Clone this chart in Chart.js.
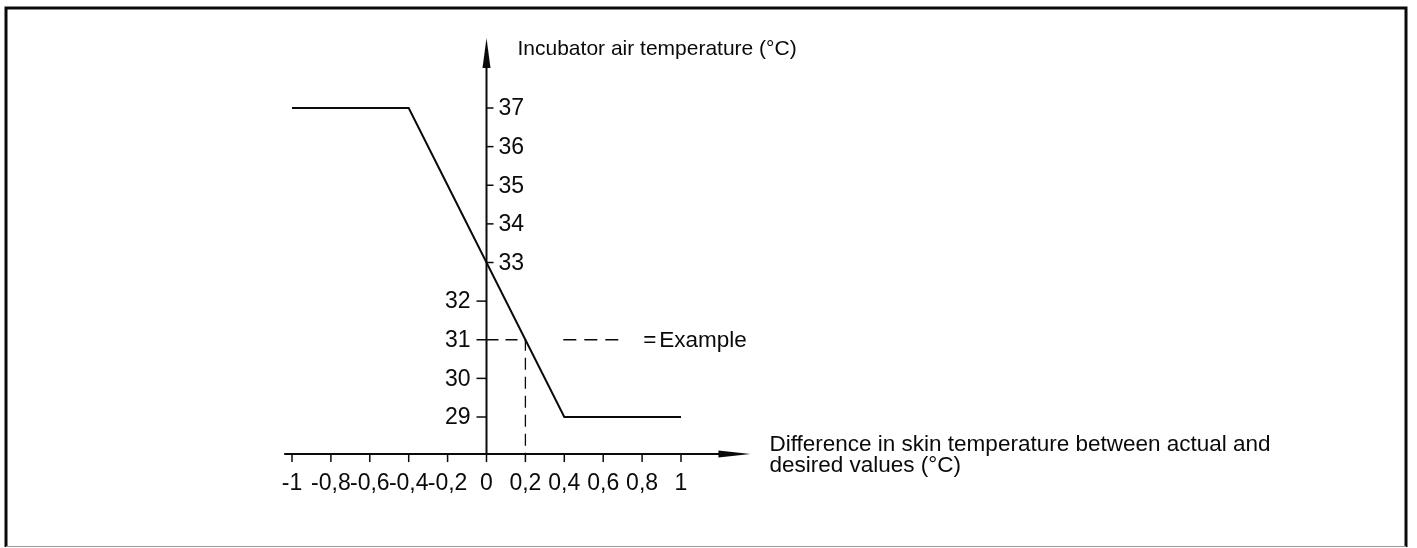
<!DOCTYPE html>
<html>
<head>
<meta charset="utf-8">
<script src="https://cdn.jsdelivr.net/npm/chart.js@4.4.0/dist/chart.umd.min.js"></script>
<style>
  html, body { margin: 0; padding: 0; background: #fff; }
  canvas { display: block; }
</style>
</head>
<body>
<canvas id="incubatorChart" width="1417" height="548"></canvas>
<script>
// ---------------- DATA ----------------
const xTicks = [-1, -0.8, -0.6, -0.4, -0.2, 0, 0.2, 0.4, 0.6, 0.8, 1];
const xTickLabels = ["-1", "-0,8", "-0,6", "-0,4", "-0,2", "0", "0,2", "0,4", "0,6", "0,8", "1"];
const yTicksRight = [33, 34, 35, 36, 37];   // labels right of the axis
const yTicksLeft = [29, 30, 31, 32];        // labels left of the axis
const curveX = [-1, -0.4, 0.4, 1];
const curveY = [37, 37, 29, 29];
const exampleX = [0, 0.2, 0.2];
const exampleY = [31, 31, 28.04];
const yTitle = "Incubator air temperature (\u00B0C)";
const xTitle = ["Difference in skin temperature between actual and", "desired values (\u00B0C)"];
const legendLabel = "Example";

// where the axes cross / end (in data units)
const xAxisAtY = 28.04;
const yAxisTopY = 38.81;
const xAxisStartX = -1.04;
const xAxisEndX = 1.357;

const FONT = '"Liberation Sans", Arial, Helvetica, sans-serif';
const INK = "#0a0a0a";

// ---------------- HELPERS ----------------
function toPoints(xs, ys) {
  return xs.map((x, i) => ({ x: x, y: ys[i] }));
}

// ---------------- AXES / FRAME PLUGIN ----------------
const schematicAxes = {
  id: "schematicAxes",
  beforeDatasetsDraw(chart) {
    const { ctx, scales: { x, y } } = chart;
    const x0 = x.getPixelForValue(0);
    const yBase = y.getPixelForValue(xAxisAtY);
    ctx.save();
    ctx.strokeStyle = INK;
    ctx.fillStyle = INK;

    // frame round the figure
    ctx.lineWidth = 3;
    ctx.beginPath();
    ctx.moveTo(6, 547);
    ctx.lineTo(6, 8);
    ctx.lineTo(1406, 8);
    ctx.lineTo(1406, 547);
    ctx.stroke();
    ctx.strokeStyle = "#999";
    ctx.lineWidth = 1;
    ctx.beginPath();
    ctx.moveTo(6, 546.5);
    ctx.lineTo(1406, 546.5);
    ctx.stroke();
    ctx.strokeStyle = INK;

    // vertical axis with arrow
    const yTop = y.getPixelForValue(yAxisTopY);
    ctx.lineWidth = 2;
    ctx.beginPath();
    ctx.moveTo(x0, yBase);
    ctx.lineTo(x0, yTop + 20);
    ctx.stroke();
    ctx.beginPath();
    ctx.moveTo(x0, yTop);
    ctx.lineTo(x0 - 4, yTop + 30);
    ctx.lineTo(x0 + 4, yTop + 30);
    ctx.closePath();
    ctx.fill();

    // horizontal axis with arrow
    const xStart = x.getPixelForValue(xAxisStartX);
    const xEnd = x.getPixelForValue(xAxisEndX);
    ctx.beginPath();
    ctx.moveTo(xStart, yBase);
    ctx.lineTo(xEnd - 20, yBase);
    ctx.stroke();
    ctx.beginPath();
    ctx.moveTo(xEnd, yBase);
    ctx.lineTo(xEnd - 32, yBase - 3.5);
    ctx.lineTo(xEnd - 32, yBase + 3.5);
    ctx.closePath();
    ctx.fill();

    // x ticks
    ctx.lineWidth = 1.5;
    xTicks.forEach(v => {
      const px = x.getPixelForValue(v);
      ctx.beginPath();
      ctx.moveTo(px, yBase);
      ctx.lineTo(px, yBase + 8);
      ctx.stroke();
    });
    // y ticks
    yTicksRight.forEach(v => {
      const py = y.getPixelForValue(v);
      ctx.beginPath();
      ctx.moveTo(x0, py);
      ctx.lineTo(x0 + 7, py);
      ctx.stroke();
    });
    yTicksLeft.forEach(v => {
      const py = y.getPixelForValue(v);
      ctx.beginPath();
      ctx.moveTo(x0 - 10, py);
      ctx.lineTo(x0, py);
      ctx.stroke();
    });

    // tick labels
    ctx.font = "23px " + FONT;
    ctx.textBaseline = "middle";
    ctx.textAlign = "center";
    xTicks.forEach((v, i) => {
      ctx.fillText(xTickLabels[i], x.getPixelForValue(v), yBase + 30);
    });
    ctx.textAlign = "left";
    yTicksRight.forEach(v => ctx.fillText(String(v), x0 + 12, y.getPixelForValue(v) + 1));
    ctx.textAlign = "right";
    yTicksLeft.forEach(v => ctx.fillText(String(v), x0 - 16, y.getPixelForValue(v) + 1));

    // axis titles
    ctx.textAlign = "left";
    ctx.textBaseline = "alphabetic";
    ctx.font = "21px " + FONT;
    ctx.fillText(yTitle, x0 + 31, yTop + 17);
    ctx.font = "22.5px " + FONT;
    ctx.fillText(xTitle[0], xEnd + 19, yBase - 3);
    ctx.fillText(xTitle[1], xEnd + 19, yBase + 18);

    // legend for the dashed example line
    const yEx = y.getPixelForValue(31);
    const lx = x.getPixelForValue(0.4);
    ctx.lineWidth = 1.5;
    ctx.setLineDash([13, 8]);
    ctx.beginPath();
    ctx.moveTo(lx - 1, yEx);
    ctx.lineTo(lx + 60, yEx);
    ctx.stroke();
    ctx.setLineDash([]);
    ctx.font = "22.5px " + FONT;
    ctx.textBaseline = "middle";
    ctx.fillText("=", lx + 79, yEx + 1);
    ctx.fillText(legendLabel, lx + 95, yEx + 1);
    ctx.restore();
  }
};

// ---------------- CHART ----------------
const ctx = document.getElementById("incubatorChart").getContext("2d");
new Chart(ctx, {
  type: "line",
  data: {
    datasets: [
      {
        label: "Incubator air temperature",
        data: toPoints(curveX, curveY),
        borderColor: INK,
        borderWidth: 2,
        pointRadius: 0,
        tension: 0,
        clip: false
      },
      {
        label: "Example",
        data: toPoints(exampleX, exampleY),
        borderColor: INK,
        borderWidth: 1.3,
        borderDash: [12, 7],
        pointRadius: 0,
        tension: 0,
        clip: false
      }
    ]
  },
  options: {
    responsive: false,
    animation: false,
    devicePixelRatio: 1,
    layout: { padding: { left: 292, right: 736, top: 108, bottom: 131 } },
    plugins: { legend: { display: false }, tooltip: { enabled: false } },
    scales: {
      x: { type: "linear", min: -1, max: 1, display: false },
      y: { type: "linear", min: 29, max: 37, display: false }
    }
  },
  plugins: [schematicAxes]
});
</script>
</body>
</html>
